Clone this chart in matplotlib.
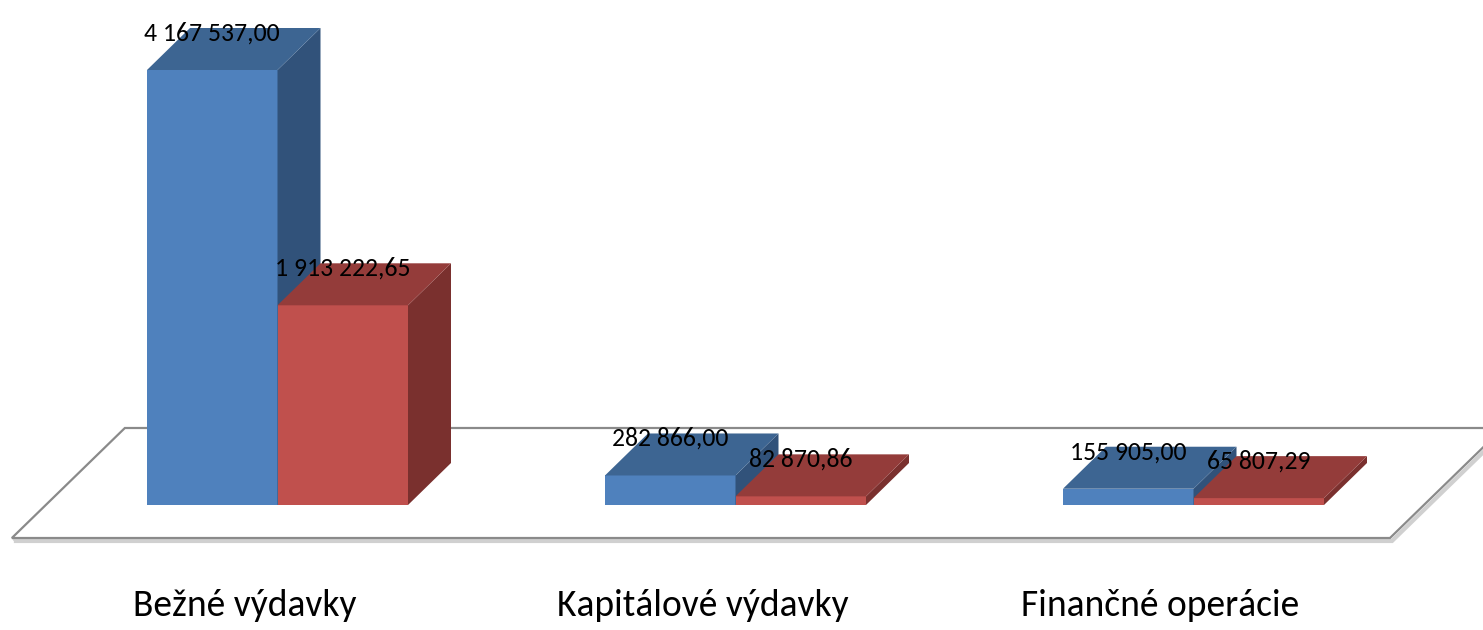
import numpy as np
import matplotlib.pyplot as plt
from matplotlib.patches import Polygon

# Data
categories = ['Bežné výdavky', 'Kapitálové výdavky', 'Finančné operácie']
series_a = [4167537.00, 282866.00, 155905.00]
series_b = [1913222.65, 82870.86, 65807.29]
labels_a = ['4 167 537,00', '282 866,00', '155 905,00']
labels_b = ['1 913 222,65', '82 870,86', '65 807,29']

FONT = ['Carlito', 'DejaVu Sans']

# Colours
blue = ('#4F81BD', '#3D6592', '#31527A')   # front, top, side
red = ('#C0504D', '#943C3A', '#7A302E')

W, H = 1483, 630
fig = plt.figure(figsize=(W / 100, H / 100), dpi=100)
ax = fig.add_axes([0, 0, 1, 1])

# axis scales: x in group units, y in value units
px_x = 458.0                 # pixels per group
px_y = 4167537.00 / 435.0    # value units per pixel
x0_px, y0_px = 277.5, 505.0  # group 0 centre / baseline in pixels
ax.set_xlim(-x0_px / px_x, (W - x0_px) / px_x)
ax.set_ylim(-(H - y0_px) * px_y, y0_px * px_y)
ax.axis('off')

bw = 130.5 / px_x           # bar width
dx = 43 / px_x              # depth offset x
dy = 42 * px_y              # depth offset y

# Floor
fl_front = -33 * px_y
fl_back = 77 * px_y
fxl, fxr = -0.580, 2.429
bdx = 113 / px_x
floor = [(fxl, fl_front), (fxr, fl_front), (fxr + bdx, fl_back), (fxl + bdx, fl_back)]
shadow = [(x + 2 / px_x, y - 3 * px_y) for x, y in floor]
ax.add_patch(Polygon(shadow, closed=True, facecolor='none', edgecolor='#d0d0d0', lw=3, zorder=1))
ax.add_patch(Polygon(floor, closed=True, facecolor='white', edgecolor='#8a8a8a', lw=1.6, zorder=2))


def bar3d(x, h, cols, z):
    ax.bar(x, h, width=bw, align='edge', color=cols[0], edgecolor='none', zorder=z)
    top = [(x, h), (x + bw, h), (x + bw + dx, h + dy), (x + dx, h + dy)]
    side = [(x + bw, 0), (x + bw + dx, dy), (x + bw + dx, h + dy), (x + bw, h)]
    ax.add_patch(Polygon(side, closed=True, facecolor=cols[2], edgecolor='none', zorder=z))
    ax.add_patch(Polygon(top, closed=True, facecolor=cols[1], edgecolor='none', zorder=z))


for i in range(len(categories)):
    xa = i - bw
    xb = i
    bar3d(xa, series_a[i], blue, 3 + 2 * i)
    bar3d(xb, series_b[i], red, 4 + 2 * i)
    ax.text(xa + bw / 2, series_a[i] + 37 * px_y, labels_a[i], ha='center', va='center',
            fontsize=18.5, family=FONT, color='black', zorder=20)
    ax.text(xb + bw / 2, series_b[i] + 37 * px_y, labels_b[i], ha='center', va='center',
            fontsize=18.5, family=FONT, color='black', zorder=20)
    ax.text(i - 33 / px_x, -(606 - y0_px) * px_y, categories[i], ha='center', va='center',
            fontsize=27, family=FONT, color='black')

fig.savefig('out.png', dpi=100)
